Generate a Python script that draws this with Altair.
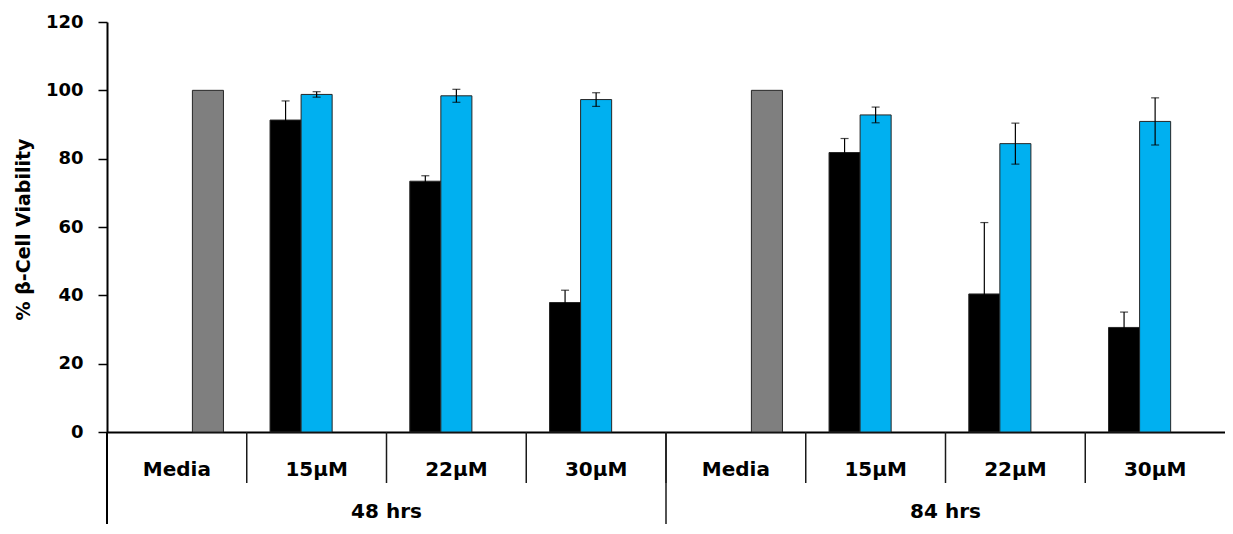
import altair as alt
import pandas as pd

# ---- data ----
times = ["48 hrs", "48 hrs", "48 hrs", "48 hrs", "84 hrs", "84 hrs", "84 hrs", "84 hrs"]
concs = ["Media", "15µM", "22µM", "30µM", "Media", "15µM", "22µM", "30µM"]

series_names = ["Series 1", "Series 2", "Series 3"]
series_colors = ["#000000", "#00B0F0", "#7F7F7F"]

black_vals = [None, 91.3, 73.4, 37.9, None, 81.8, 40.4, 30.6]
black_errs = [None, 5.6, 1.6, 3.6, None, 4.1, 20.9, 4.5]
blue_vals = [None, 98.8, 98.4, 97.3, None, 92.8, 84.4, 90.9]
blue_errs = [None, 0.8, 1.9, 2.0, None, 2.3, 6.0, 6.9]
grey_vals = [100, None, None, None, 100, None, None, None]
grey_errs = [None, None, None, None, None, None, None, None]

y_ticks = [0, 20, 40, 60, 80, 100, 120]
y_title = "% β-Cell Viability"

# ---- tables ----
cats = [f"{t} | {c}" for t, c in zip(times, concs)]
rows = []
for i, cat in enumerate(cats):
    for s, vals, errs in zip(series_names, [black_vals, blue_vals, grey_vals],
                             [black_errs, blue_errs, grey_errs]):
        if vals[i] is not None:
            e = errs[i] if errs[i] is not None else 0
            rows.append(dict(cat=cat, series=s, value=vals[i], err=e,
                             lo=vals[i] - e, hi=vals[i] + e))
df = pd.DataFrame(rows)
err_df = df[df["err"] > 0]

cat_df = pd.DataFrame(dict(cat=cats, conc=concs))
group_df = pd.DataFrame(dict(cat=[cats[1], cats[5]], label=[times[0], times[4]]))
sep1_df = pd.DataFrame(dict(cat=cats[1:]))
sep2_df = pd.DataFrame(dict(cat=[cats[4]]))

FONT = "DejaVu Sans"
H = 410
W = 1118

x_scale = alt.Scale(domain=cats, paddingInner=0, paddingOuter=0)
xo_scale = alt.Scale(domain=series_names, paddingInner=0, paddingOuter=0.75)
y_scale = alt.Scale(domain=[0, 120], nice=False)

bars = alt.Chart(df).mark_bar(stroke="#262626", strokeWidth=1).encode(
    x=alt.X("cat:N", scale=x_scale, title=None,
            axis=alt.Axis(labels=False, ticks=False, grid=False, title=None,
                          domainColor="black", domainWidth=2)),
    xOffset=alt.XOffset("series:N", scale=xo_scale),
    y=alt.Y("value:Q", scale=y_scale, title=y_title,
            axis=alt.Axis(values=y_ticks, grid=False, title=y_title,
                          labelFont=FONT, labelFontWeight="bold", labelFontSize=18,
                          labelColor="black", labelPadding=15,
                          tickColor="black", tickSize=9, tickWidth=1.5,
                          domainColor="black", domainWidth=2,
                          titleFont=FONT, titleFontWeight="bold", titleFontSize=19,
                          titleColor="black", titleAngle=270, titleX=-78, titleY=207,
                          titleAlign="center", titleBaseline="alphabetic")),
    color=alt.Color("series:N", scale=alt.Scale(domain=series_names, range=series_colors),
                    legend=None),
)

err_line = alt.Chart(err_df).mark_rule(color="black", strokeWidth=1.2).encode(
    x=alt.X("cat:N", scale=x_scale, title=None),
    xOffset=alt.XOffset("series:N", scale=xo_scale),
    y=alt.Y("lo:Q", scale=y_scale, title=y_title),
    y2="hi:Q",
)
cap_hi = alt.Chart(err_df).mark_tick(color="black", thickness=1.2, size=8).encode(
    x=alt.X("cat:N", scale=x_scale, title=None),
    xOffset=alt.XOffset("series:N", scale=xo_scale),
    y=alt.Y("hi:Q", scale=y_scale, title=y_title),
)
cap_lo = alt.Chart(err_df).mark_tick(color="black", thickness=1.2, size=8).encode(
    x=alt.X("cat:N", scale=x_scale, title=None),
    xOffset=alt.XOffset("series:N", scale=xo_scale),
    y=alt.Y("lo:Q", scale=y_scale, title=y_title),
)

row1 = alt.Chart(cat_df).mark_text(font=FONT, fontWeight="bold", fontSize=20,
                                   color="black", baseline="alphabetic").encode(
    x=alt.X("cat:N", scale=x_scale, title=None),
    y=alt.value(H + 44),
    text="conc:N",
)
row2 = alt.Chart(group_df).mark_text(font=FONT, fontWeight="bold", fontSize=20,
                                     color="black", baseline="alphabetic").encode(
    x=alt.X("cat:N", scale=x_scale, title=None, bandPosition=1),
    y=alt.value(H + 86),
    text="label:N",
)
sep1 = alt.Chart(sep1_df).mark_rule(color="#1a1a1a", strokeWidth=1.5).encode(
    x=alt.X("cat:N", scale=x_scale, title=None, bandPosition=0),
    y=alt.value(H),
    y2=alt.value(H + 51),
)
sep2 = alt.Chart(sep2_df).mark_rule(color="#1a1a1a", strokeWidth=1.5).encode(
    x=alt.X("cat:N", scale=x_scale, title=None, bandPosition=0),
    y=alt.value(H),
    y2=alt.value(H + 120),
)
yext = alt.Chart(sep2_df).mark_rule(color="black", strokeWidth=2).encode(
    x=alt.value(0),
    y=alt.value(H),
    y2=alt.value(H + 120),
)

chart = alt.layer(bars, err_line, cap_hi, cap_lo, row1, row2, sep1, sep2, yext).properties(
    width=W, height=H,
    autosize=alt.AutoSizeParams(type="none"),
    padding={"left": 99, "top": 14, "right": 0, "bottom": 92},
).configure_view(stroke=None)

chart.save("out.html", embed_options={"renderer": "svg", "actions": False})
